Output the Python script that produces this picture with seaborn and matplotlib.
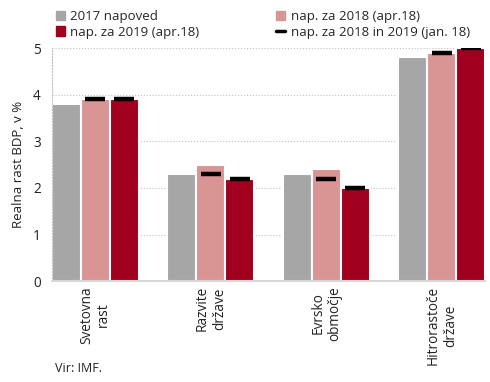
import pandas as pd
import numpy as np
import matplotlib.pyplot as plt
import seaborn as sns
from matplotlib.patches import Patch
from matplotlib.lines import Line2D

categories = ['Svetovna\nrast', 'Razvite\ndržave', 'Evrsko\nobmočje', 'Hitrorastoče\ndržave']
series = ['2017 napoved', 'nap. za 2018 (apr.18)', 'nap. za 2019 (apr.18)']
val_2017 = [3.8, 2.3, 2.3, 4.8]
val_2018 = [3.9, 2.5, 2.4, 4.9]
val_2019 = [3.9, 2.2, 2.0, 5.0]
jan_2018 = [3.9, 2.3, 2.2, 4.9]
jan_2019 = [3.9, 2.2, 2.0, 5.0]
jan_label = 'nap. za 2018 in 2019 (jan. 18)'
colors = ['#a6a6a6', '#d99594', '#a0001e']

df = pd.DataFrame({
    'cat': categories * 3,
    'series': [s for s in series for _ in categories],
    'val': val_2017 + val_2018 + val_2019,
})

sns.set_style('white')
plt.rcParams['font.family'] = ['Open Sans', 'DejaVu Sans']

fig = plt.figure(figsize=(4.9, 3.82), dpi=100)
ax = fig.add_axes([0.106, 0.264, 0.884, 0.61])

sns.barplot(data=df, x='cat', y='val', hue='series', palette=colors, saturation=1,
            width=0.75, edgecolor='white', linewidth=1.5, ax=ax, legend=False)

# january forecasts as black dashes over the 2018 and 2019 bars
for cont, vals in zip(ax.containers[1:3], [jan_2018, jan_2019]):
    xs = [p.get_x() + p.get_width() / 2 for p in cont.patches]
    ax.plot(xs, vals, ls='none', marker='_', ms=14, mew=3.2, color='black', zorder=5)

ax.set_ylim(0, 5)
ax.set_yticks(range(6))
ax.set_xlim(-0.375, 3.375)
ax.yaxis.grid(True, color='#c0c0c0', linestyle=':', linewidth=0.8)
ax.set_axisbelow(True)
for s in ['top', 'right']:
    ax.spines[s].set_visible(False)
ax.spines['left'].set_color('#c0c0c0')
ax.spines['left'].set_linestyle(':')
ax.spines['left'].set_linewidth(0.8)
ax.spines['bottom'].set_color('#d0d0d0')
ax.spines['bottom'].set_linewidth(1.2)
ax.tick_params(length=0, labelsize=9.8, colors='#222222')
ax.tick_params(axis='y', pad=8)
ax.set_xticks(range(len(categories)))
ax.set_xticklabels(categories, rotation=90, ha='center', va='top', multialignment='center')
ax.set_xlabel('')
ax.set_ylabel('Realna rast BDP, v %', fontsize=9.5, color='#222222', labelpad=6)

handles = [Patch(color=colors[0], label=series[0]),
           Patch(color=colors[2], label=series[2]),
           Patch(color=colors[1], label=series[1]),
           Line2D([], [], color='black', lw=2.5, label=jan_label)]
fig.legend(handles=handles, ncol=2, loc='upper left', bbox_to_anchor=(0.09, 1.005),
           frameon=False, fontsize=9.5, handlelength=0.7, handleheight=0.7,
           handletextpad=0.4, columnspacing=5.8, labelspacing=0.2)

fig.text(0.112, 0.025, 'Vir: IMF.', fontsize=9, color='#222222')

fig.savefig('out.png', dpi=100)
